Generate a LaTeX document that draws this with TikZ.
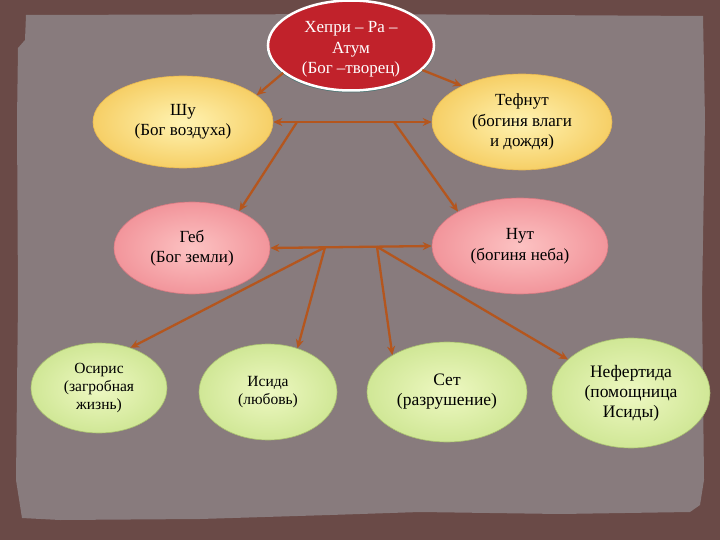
\documentclass[tikz,border=0pt]{standalone}
\usepackage{fontspec}
\setmainfont{Liberation Serif}
\usetikzlibrary{shapes.geometric,arrows.meta}
\definecolor{bordbrown}{HTML}{6A4A47}
\definecolor{panelc}{HTML}{887B7D}
\definecolor{arrowc}{HTML}{B4561E}
\definecolor{redc}{HTML}{C1222B}
\definecolor{shadowc}{HTML}{4A7473}
\definecolor{yelin}{HTML}{FFF3B2}
\definecolor{yelout}{HTML}{F6CF66}
\definecolor{yeledge}{HTML}{E9B850}
\definecolor{pinkin}{HTML}{FCC2C2}
\definecolor{pinkout}{HTML}{F2959B}
\definecolor{pinkedge}{HTML}{D87A82}
\definecolor{grnin}{HTML}{EEF8C2}
\definecolor{grnout}{HTML}{D0E796}
\definecolor{grnedge}{HTML}{A9C070}
\begin{document}
\begin{tikzpicture}[x=1pt,y=-1pt,
  god/.style={ellipse, inner sep=0pt, align=center, text=black},
  yel/.style={god, shading=radial, inner color=yelin, outer color=yelout, draw=yeledge, line width=0.6pt},
  pnk/.style={god, shading=radial, inner color=pinkin, outer color=pinkout, draw=pinkedge, line width=0.6pt},
  grn/.style={god, shading=radial, inner color=grnin, outer color=grnout, draw=grnedge, line width=0.6pt},
  arr/.style={draw=arrowc, line width=2.3pt, -{Stealth[length=9pt,width=8pt]}},
  darr/.style={draw=arrowc, line width=2.3pt, {Stealth[length=9pt,width=8pt]}-{Stealth[length=9pt,width=8pt]}},
  fA/.style={font=\fontsize{17}{20.5}\selectfont},
  fB/.style={font=\fontsize{15.5}{18}\selectfont},
  fC/.style={font=\fontsize{17.5}{20}\selectfont}]
\useasboundingbox (0,0) rectangle (720,540);
% background
\fill[bordbrown] (0,0) rectangle (720,540);
\fill[panelc] (26,15) -- (360,14) -- (703,16) -- (705,120) -- (702,300) -- (704,480) -- (700,505)
  -- (690,512) -- (560,514) -- (420,512) -- (330,515) -- (200,519) -- (60,520) -- (22,518)
  -- (16,480) -- (18,300) -- (17,120) -- (18,48) -- (25,40) -- cycle;
% top node
\fill[shadowc] (351,47) ellipse [x radius=84, y radius=45.5];
\node[ellipse, fill=redc, draw=white, line width=2.5pt, minimum width=166pt, minimum height=90pt,
  inner sep=0pt, align=center, text=white, fA] (top) at (351,45.5) {\rule{0pt}{19pt}Хепри – Ра –\\Атум\\(Бог –творец)};
% second row
\node[yel, fA, minimum width=180pt, minimum height=92pt] (shu) at (183,122) {Шу\\(Бог воздуха)};
\node[yel, fA, minimum width=180pt, minimum height=96pt] (tef) at (522,122) {Тефнут\\(богиня влаги\\и дождя)};
% third row
\node[pnk, fA, minimum width=156pt, minimum height=92pt] (geb) at (192,248) {Геб\\(Бог земли)};
\node[pnk, fA, minimum width=176pt, minimum height=96pt] (nut) at (520,246) {Нут\\(богиня неба)};
% bottom row
\node[grn, fB, minimum width=136pt, minimum height=90pt] (osi) at (99,388) {Осирис\\(загробная\\жизнь)};
\node[grn, fB, minimum width=138pt, minimum height=96pt] (isi) at (268,392) {Исида\\(любовь)};
\node[grn, fC, minimum width=160pt, minimum height=100pt] (set) at (447,392) {Сет\\(разрушение)};
\node[grn, fC, minimum width=158pt, minimum height=110pt] (nef) at (631,393) {Нефертида\\(помощница\\Исиды)};
% junctions
\coordinate (j1) at (297,122);
\coordinate (j2) at (394,122);
\coordinate (j3) at (325,247.3);
\coordinate (j4) at (377,246.7);
% connectors
\draw[arr] (top.202) -- (shu.20);
\draw[arr] (top.341) -- (tef.149);
\draw[darr] (shu.east) -- (tef.west);
\draw[arr] (j1) -- (geb.38);
\draw[arr] (j2) -- (nut.151);
\draw[darr] (geb.east) -- (nut.west);
\draw[arr] (j3) -- (osi.52);
\draw[arr] (j3) -- (isi.56);
\draw[arr] (j4) -- (set.146);
\draw[arr] (j4) -- (nef.152);
\end{tikzpicture}
\end{document}
